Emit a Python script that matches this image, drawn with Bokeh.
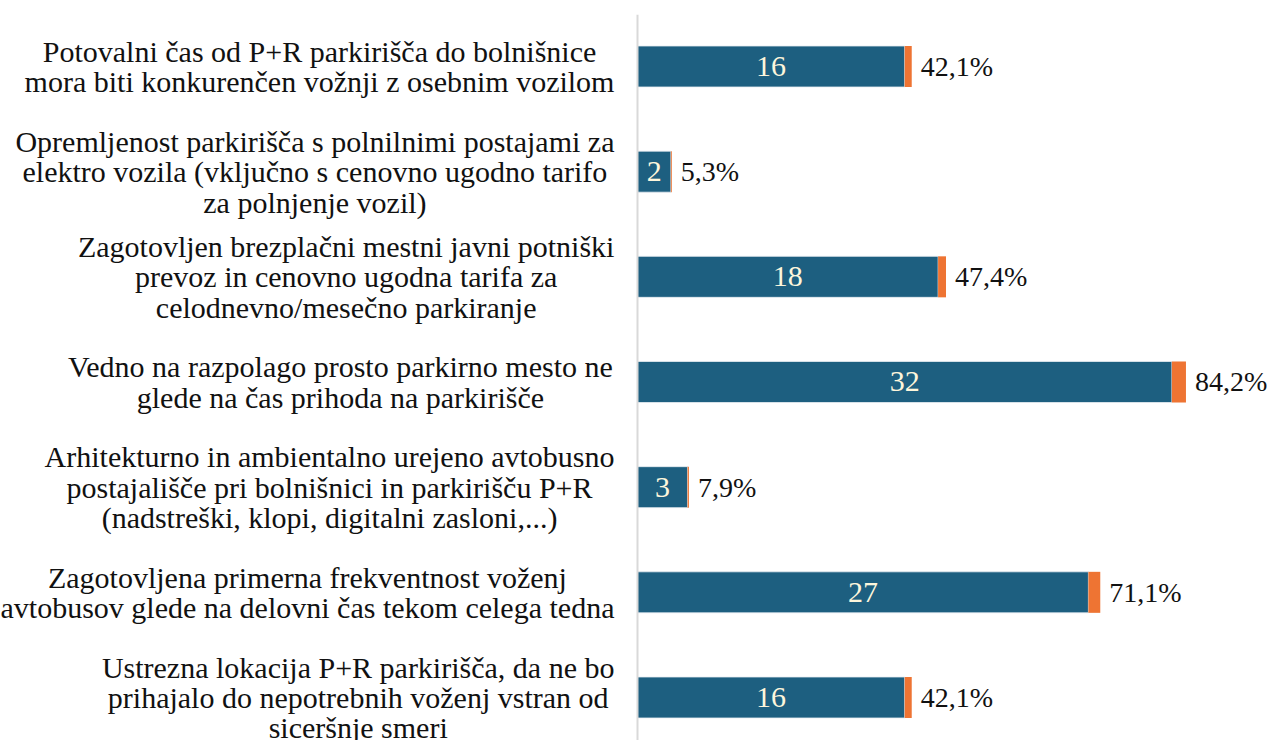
from bokeh.plotting import figure
from bokeh.models import ColumnDataSource, Range1d, Span
from bokeh.core.properties import value
from bokeh.embed import file_html
from bokeh.resources import INLINE

categories = [
    "Potovalni čas od P+R parkirišča do bolnišnice\nmora biti konkurenčen vožnji z osebnim vozilom",
    "Opremljenost parkirišča s polnilnimi postajami za\nelektro vozila (vključno s cenovno ugodno tarifo\nza polnjenje vozil)",
    "Zagotovljen brezplačni mestni javni potniški\nprevoz in cenovno ugodna tarifa za\ncelodnevno/mesečno parkiranje",
    "Vedno na razpolago prosto parkirno mesto ne\nglede na čas prihoda na parkirišče",
    "Arhitekturno in ambientalno urejeno avtobusno\npostajališče pri bolnišnici in parkirišču P+R\n(nadstreški, klopi, digitalni zasloni,...)",
    "Zagotovljena primerna frekventnost voženj\navtobusov glede na delovni čas tekom celega tedna",
    "Ustrezna lokacija P+R parkirišča, da ne bo\nprihajalo do nepotrebnih voženj vstran od\nsiceršnje smeri",
]
counts = [16, 2, 18, 32, 3, 27, 16]
percents = [42.1, 5.3, 47.4, 84.2, 7.9, 71.1, 42.1]

BLUE = "#1d5f80"
ORANGE = "#ee7433"
LABEL_FONT = "Liberation Serif"
LABEL_SIZE = 30

# approximate Times-like glyph widths (per 1000 em) for label-block centering
_W = {" ": 250, "a": 444, "b": 500, "c": 444, "d": 500, "e": 444, "f": 333, "g": 500,
      "h": 500, "i": 278, "j": 278, "k": 500, "l": 278, "m": 778, "n": 500, "o": 500,
      "p": 500, "q": 500, "r": 333, "s": 389, "t": 278, "u": 500, "v": 500, "w": 722,
      "x": 500, "y": 500, "z": 444, "č": 444, "š": 389, "ž": 444, "P": 556, "R": 667,
      "O": 722, "Z": 611, "V": 722, "A": 722, "U": 722, "(": 333, ")": 333, "+": 564,
      ",": 250, ".": 250, "/": 278}


def text_width(s, size):
    return sum(_W.get(ch, 500) for ch in s) / 1000.0 * size


n = len(categories)
ys = list(range(n))
left2 = counts
right2 = [c + p / 100.0 for c, p in zip(counts, percents)]
xoffs = [-(23 + max(text_width(l, LABEL_SIZE) for l in c.split("\n")) / 2.0) for c in categories]

src = ColumnDataSource(dict(
    y=ys, cat=categories, count=counts, half=[c / 2.0 for c in counts],
    left2=left2, right2=right2,
    cnt_txt=[str(c) for c in counts],
    pct_txt=[("%.1f" % p).replace(".", ",") + "%" for p in percents],
    zero=[0] * n, xoff=xoffs,
))

W, H = 1271, 740
scale = 16.7  # px per unit
x0_px = 637
row = 105.17
p = figure(width=W, height=H, output_backend="svg", toolbar_location=None,
           x_range=Range1d(-x0_px / scale, (W - x0_px) / scale),
           y_range=Range1d(6 + (H - 697) / row, -(66 - 14) / row),
           min_border_left=0, min_border_right=0, min_border_top=14, min_border_bottom=0)
p.outline_line_color = None
p.axis.visible = False
p.grid.visible = False

p.hbar(y="y", left="zero", right="count", height=0.39, source=src,
       fill_color=BLUE, line_color="#e8eef2", line_width=0.8)
p.hbar(y="y", left="left2", right="right2", height=0.39, source=src,
       fill_color=ORANGE, line_color=None)

p.add_layout(Span(location=0, dimension="height", line_color="#d9d9d9", line_width=2))

p.text(x="half", y="y", text="cnt_txt", source=src, text_align="center",
       text_baseline="middle", text_color="#fdf6dc", text_font=value(LABEL_FONT),
       text_font_size="30px")
p.text(x="right2", y="y", text="pct_txt", source=src, x_offset=9, text_align="left",
       text_baseline="middle", text_color="#111111", text_font=value(LABEL_FONT),
       text_font_size="28px")
p.text(x="zero", y="y", text="cat", source=src, x_offset="xoff", text_align="center",
       text_baseline="middle", text_color="#111111", text_font=value(LABEL_FONT),
       text_font_size=f"{LABEL_SIZE}px", text_line_height=0.92)

open("out.html", "w").write(file_html(p, INLINE))
